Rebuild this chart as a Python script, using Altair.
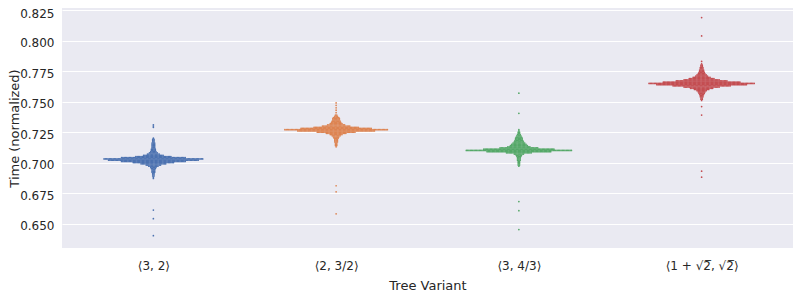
import json
import altair as alt
import pandas as pd

categories = ["⟨3, 2⟩", "⟨2, 3/2⟩", "⟨3, 4/3⟩", "⟨1 + √2̅, √2̅⟩"]
colors = ["#4C72B0", "#DD8452", "#55A868", "#C44E52"]

# Each row of the swarm: a time value and how many runs landed there
blue_values = [0.640, 0.654, 0.661,
               0.687, 0.688, 0.689, 0.690, 0.691, 0.692, 0.693, 0.694, 0.695, 0.696,
               0.697, 0.698, 0.699, 0.700, 0.701, 0.702, 0.703, 0.704, 0.705, 0.706,
               0.707, 0.708, 0.709, 0.710, 0.711, 0.712, 0.713, 0.714, 0.715, 0.716,
               0.717, 0.718, 0.719, 0.720, 0.729, 0.730, 0.731]
blue_counts = [1, 1, 1,
               1, 1, 2, 2, 2, 3, 3, 3, 4, 5,
               8, 12, 20, 32, 50, 70, 77, 50, 28, 16,
               10, 7, 5, 4, 4, 3, 3, 3, 3, 3,
               2, 2, 2, 1, 1, 1, 1]

orange_values = [0.658, 0.676, 0.681,
                 0.713, 0.714, 0.715, 0.716, 0.717, 0.718, 0.719, 0.720, 0.721, 0.722,
                 0.723, 0.724, 0.725, 0.726, 0.727, 0.728, 0.729, 0.730, 0.731, 0.732,
                 0.733, 0.734, 0.735, 0.736, 0.737, 0.738, 0.739, 0.741, 0.743, 0.745,
                 0.747, 0.749]
orange_counts = [1, 1, 1,
                 1, 2, 2, 2, 3, 3, 3, 4, 5, 7,
                 10, 16, 30, 60, 80, 55, 35, 22, 14, 10,
                 8, 7, 6, 6, 5, 3, 2, 1, 1, 1,
                 1, 1]

green_values = [0.645, 0.6605, 0.668,
                0.697, 0.698, 0.699, 0.700, 0.701, 0.702, 0.703, 0.704, 0.705, 0.706,
                0.707, 0.708, 0.709, 0.710, 0.711, 0.712, 0.713, 0.714, 0.715, 0.716,
                0.717, 0.718, 0.719, 0.720, 0.721, 0.722, 0.723, 0.724, 0.725, 0.726,
                0.727, 0.7405, 0.757]
green_counts = [1, 1, 1,
                1, 2, 2, 2, 2, 3, 3, 3, 4, 5,
                8, 20, 50, 82, 55, 30, 18, 14, 12, 10,
                8, 7, 6, 6, 5, 4, 3, 2, 2, 1,
                1, 1, 1]

red_values = [0.688, 0.693, 0.739, 0.746,
              0.751, 0.752, 0.753, 0.754, 0.755, 0.756, 0.757, 0.758, 0.759, 0.760,
              0.761, 0.762, 0.763, 0.764, 0.765, 0.766, 0.767, 0.768, 0.769, 0.770,
              0.771, 0.772, 0.773, 0.774, 0.775, 0.776, 0.777, 0.778, 0.779, 0.780,
              0.781, 0.783, 0.804, 0.819]
red_counts = [1, 1, 1, 1,
              1, 2, 2, 3, 3, 4, 5, 6, 8, 12,
              18, 28, 45, 70, 82, 60, 40, 28, 20, 14,
              10, 8, 6, 5, 4, 4, 3, 3, 2, 2,
              1, 1, 1, 1]

y_ticks = [0.650, 0.675, 0.700, 0.725, 0.750, 0.775, 0.800, 0.825]

series = [(blue_values, blue_counts), (orange_values, orange_counts),
          (green_values, green_counts), (red_values, red_counts)]

rows = []
for ci, (vals, cnts) in enumerate(series):
    for v, n in zip(vals, cnts):
        for k in range(n):
            rows.append({"cat": ci, "variant": categories[ci], "time": v,
                         "slot": k - (n - 1) / 2})
df = pd.DataFrame(rows)

label_expr = "[" + ",".join(json.dumps(c) for c in categories) + "][datum.value]"
font = "DejaVu Sans"
text_color = "#262626"

chart = alt.Chart(df).transform_calculate(
    pos="datum.cat + datum.slot * 0.0071"
).mark_circle(size=3, opacity=1).encode(
    x=alt.X("pos:Q",
            scale=alt.Scale(domain=[-0.5, 3.5], nice=False, zero=False),
            axis=alt.Axis(values=[0, 1, 2, 3], labelExpr=label_expr,
                          title="Tree Variant", grid=False, domain=False, ticks=False,
                          labelPadding=12, labelFontSize=12, titleFontSize=13,
                          titleFontWeight="normal", titleY=41, titleBaseline="alphabetic",
                          labelColor=text_color, titleColor=text_color,
                          labelFont=font, titleFont=font)),
    y=alt.Y("time:Q",
            scale=alt.Scale(domain=[0.6299, 0.8269], nice=False, zero=False),
            axis=alt.Axis(values=y_ticks, format=".3f", title="Time (normalized)",
                          grid=True, gridColor="white", gridWidth=1.2,
                          domain=False, ticks=False, labelPadding=8, labelOffset=2,
                          labelFlush=3, labelFlushOffset=4,
                          labelFontSize=12, titleFontSize=13, titleFontWeight="normal",
                          titleX=-54, titleBaseline="top",
                          labelColor=text_color, titleColor=text_color,
                          labelFont=font, titleFont=font)),
    color=alt.Color("variant:N", scale=alt.Scale(domain=categories, range=colors),
                    legend=None),
).properties(
    width=731, height=240,
    autosize=alt.AutoSizeParams(type="none"),
    padding={"left": 54, "top": 0, "right": 0, "bottom": 46},
).configure_view(
    fill="#EAEAF2", stroke=None
)

chart.save("out.html", embed_options={"renderer": "svg", "actions": False})
